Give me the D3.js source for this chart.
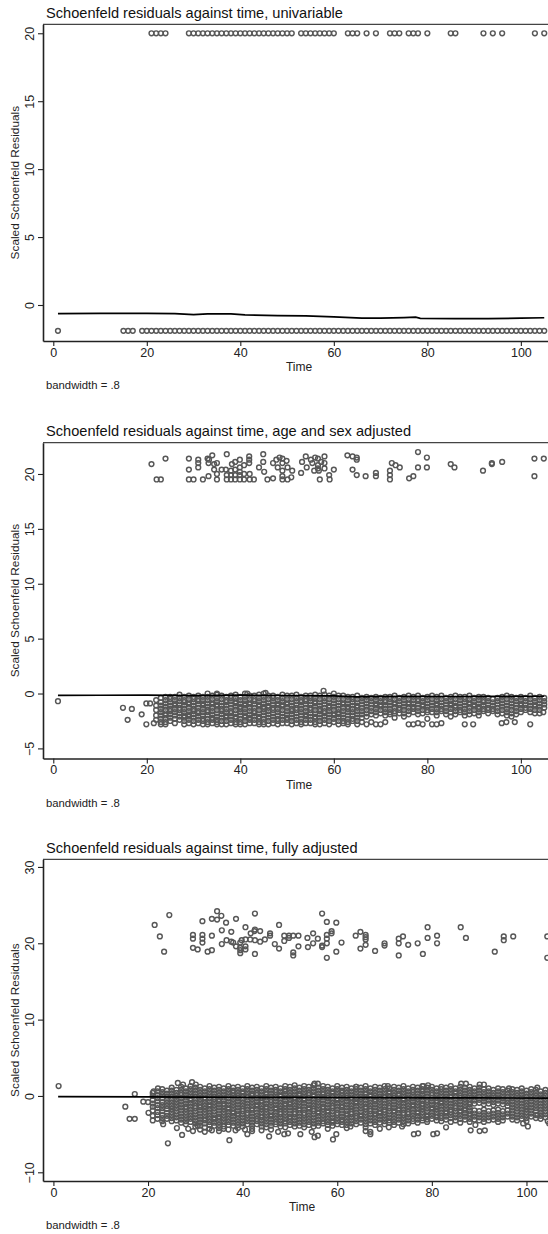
<!DOCTYPE html>
<html><head><meta charset="utf-8">
<script src="https://cdn.jsdelivr.net/npm/d3@7"></script>
<style>body{margin:0;background:#fff}svg{display:block;font-family:"Liberation Sans",Arial,sans-serif}</style>
</head><body><svg id="c" width="548" height="1234"></svg>
<script>
// ---------------- DATA ----------------
const titles = ["Schoenfeld residuals against time, univariable",
  "Schoenfeld residuals against time, age and sex adjusted",
  "Schoenfeld residuals against time, fully adjusted"];
const xTicks = [0,20,40,60,80,100];
const yTicks1 = [0,5,10,15,20];
const yTicks2 = [-5,0,5,10,15,20];
const yTicks3 = [-10,0,10,20,30];
const xLabel = "Time", yLabel = "Scaled Schoenfeld Residuals", note = "bandwidth = .8";

// Panel 1 (univariable): residuals take two values
const p1TopResidual = 20.0;
const p1TopTimes = [21,22,23,24,29,30,31,32,33,34,35,36,37,38,39,40,41,42,43,44,45,46,47,48,49,50,51,
  53,54,55,56,57,58,59,60,63,64,65,67,69,72,73,74,76,77,78,80,85,86,92,94,96,103,105];
const p1BottomResidual = -1.9;
const p1BottomTimes = [1,15,16,17,19,20,21,22,23,24,25,26,27,28,29,30,31,32,33,34,35,36,37,38,39,40,
  41,42,43,44,45,46,47,48,49,50,51,52,53,54,55,56,57,58,59,60,61,62,63,64,65,66,67,68,69,70,
  71,72,73,74,75,76,77,78,79,80,81,82,83,84,85,86,87,88,89,90,91,92,93,94,95,96,97,98,99,100,
  101,102,103,104,105];
const p1Lowess = [[1,-.64],[10,-.62],[20,-.61],[26,-.63],[30,-.71],[33,-.66],[38,-.66],[41,-.73],[48,-.78],
  [54,-.8],[60,-.88],[66,-.96],[70,-.96],[75,-.93],[77.5,-.9],[78.5,-.98],[86,-1.0],[93,-1.0],[100,-.97],[105,-.94]];

// Panel 2 (age and sex adjusted)
const p2Upper = [[21.0,20.9],[22.1,19.5],[23.0,19.5],[24.0,21.4],[29.0,21.4],[29.0,20.4],[29.0,19.5],[30.0,19.5],
  [31.0,21.3],[31.0,21.0],[31.0,20.6],[32.0,19.5],[33.0,21.4],[33.3,21.3],[33.2,21.0],[34.0,21.7],[34.4,20.9],[35.0,21.0],
  [33.2,19.8],[35.0,20.0],[34.4,20.4],[35.0,19.5],[36.0,20.4],[36.9,20.4],[37.1,21.8],[37.1,19.9],[37.1,19.5],
  [38.0,20.3],[38.0,19.9],[38.0,19.5],[38.2,20.9],[38.9,21.1],[38.9,20.4],[38.9,19.9],[38.9,19.5],
  [39.9,21.3],[39.9,20.6],[39.9,20.2],[39.9,19.9],[39.9,19.5],[40.8,20.8],[40.8,20.0],[40.8,19.5],
  [41.9,21.6],[41.9,21.3],[41.9,21.0],[42.0,20.0],[42.0,19.5],[42.9,19.5],[44.0,20.6],[44.9,21.8],[44.9,21.1],
  [45.1,20.2],[45.8,19.5],[47.0,21.0],[47.7,21.3],[48.0,20.6],[47.0,19.6],[48.4,21.5],[49.0,21.4],[49.0,21.0],
  [49.0,20.3],[49.0,19.8],[49.0,19.5],[49.9,21.2],[50.1,20.6],[50.1,19.5],[50.9,19.7],[51.1,20.3],
  [53.0,20.1],[53.2,21.1],[54.0,21.6],[54.2,20.6],[55.1,21.3],[55.4,21.0],[55.8,20.3],[56.0,21.5],[56.6,21.4],
  [56.6,20.8],[56.6,20.5],[56.8,20.3],[57.0,19.5],[57.3,21.1],[58.0,21.0],[58.0,20.5],[58.0,21.6],
  [59.0,19.9],[59.1,19.5],[60.0,20.4],[62.9,21.7],[64.0,21.6],[64.9,21.5],[64.9,21.3],[64.0,20.4],[64.9,19.9],
  [66.8,19.8],[69.0,20.1],[69.0,19.8],[72.0,20.3],[72.0,19.9],[72.0,19.5],[72.4,21.0],[73.2,20.8],[74.1,20.6],
  [76.1,19.6],[77.0,19.8],[78.0,22.0],[78.0,20.6],[79.9,21.5],[79.9,20.6],[85.0,20.9],[85.8,20.6],[91.9,20.3],
  [93.8,21.0],[93.8,20.9],[96.0,21.1],[102.9,21.4],[104.9,21.4],[102.9,19.8]];
const p2Outliers = [[1.0,-.7],[14.9,-1.3],[16.8,-1.4],[15.9,-2.4],[18.9,-1.9],[19.9,-2.8],[19.9,-.9],[20.7,-.9],
  [21.5,-2.7],[57.8,.25],[35,0],[41.5,0],[45.4,.05],[88,-2.8],[89.8,-2.8],[95.9,-2.7],[96.9,-2.6],[98.7,-2.6],
  [102,-2.8],[104,-1.8],[104.8,-1.7]];
const p2Cols = [
 [22,[-.6,-1.1,-1.5,-2.0,-2.4]],
 [23,[-.4,-.8,-1.1,-1.4,-1.7,-2.0,-2.3,-2.6,-2.8]],
 [24,[-.3,-.6,-.9,-1.2,-1.5,-1.8,-2.0,-2.3,-2.6,-2.8]],
 [25,[-.3,-.5,-.8,-1.1,-1.4,-1.6,-1.9,-2.2,-2.5]],
 [26,[-.3,-.6,-.9,-1.1,-1.4,-1.7,-2.0,-2.3,-2.7]],
 [27,[-.1,-.4,-.7,-1.0,-1.3,-1.5,-1.8,-2.1,-2.4]],
 [28,[-.3,-.6,-.8,-1.1,-1.4,-1.7,-2.0,-2.2,-2.5,-2.8]],
 [29,[-.2,-.5,-.8,-1.0,-1.3,-1.6,-1.9,-2.1,-2.4,-2.7]],
 [30,[-.3,-.5,-.8,-1.1,-1.4,-1.6,-1.9,-2.2,-2.5,-2.8]],
 [31,[-.2,-.5,-.7,-1.0,-1.3,-1.6,-1.8,-2.1,-2.4,-2.7]],
 [32,[-.3,-.6,-.9,-1.1,-1.4,-1.7,-2.0,-2.3,-2.5,-2.8]],
 [33,[0,-.3,-.6,-.9,-1.2,-1.5,-1.7,-2.0,-2.3,-2.6,-2.8]],
 [34,[-.2,-.5,-.8,-1.0,-1.3,-1.6,-1.9,-2.2,-2.4,-2.7]],
 [35,[-.1,-.4,-.7,-1.0,-1.2,-1.5,-1.8,-2.1,-2.4,-2.6,-2.8]],
 [36,[-.2,-.5,-.8,-1.1,-1.4,-1.6,-1.9,-2.2,-2.5,-2.8]],
 [37,[-.3,-.6,-.8,-1.1,-1.4,-1.7,-2.0,-2.2,-2.5,-2.8]],
 [38,[-.2,-.4,-.7,-1.0,-1.3,-1.6,-1.8,-2.1,-2.4,-2.7]],
 [39,[-.1,-.4,-.7,-.9,-1.2,-1.5,-1.8,-2.1,-2.3,-2.6,-2.8]],
 [40,[-.3,-.6,-.9,-1.2,-1.4,-1.7,-2.0,-2.3,-2.6,-2.8]],
 [41,[0,-.3,-.6,-.9,-1.1,-1.4,-1.7,-2.0,-2.2,-2.5,-2.8]],
 [42,[-.2,-.5,-.8,-1.0,-1.3,-1.6,-1.9,-2.2,-2.4,-2.7]],
 [43,[-.2,-.5,-.7,-1.0,-1.3,-1.6,-1.8,-2.1,-2.4,-2.7]],
 [44,[-.1,-.4,-.7,-1.0,-1.2,-1.5,-1.8,-2.1,-2.3,-2.6,-2.8]],
 [45,[0,-.3,-.6,-.9,-1.2,-1.4,-1.7,-2.0,-2.3,-2.6,-2.8]],
 [46,[-.2,-.5,-.8,-1.1,-1.3,-1.6,-1.9,-2.2,-2.5,-2.8]],
 [47,[-.2,-.4,-.7,-1.0,-1.3,-1.5,-1.8,-2.1,-2.4,-2.7]],
 [48,[-.3,-.6,-.9,-1.1,-1.4,-1.7,-2.0,-2.3,-2.5,-2.8]],
 [49,[-.1,-.4,-.7,-1.0,-1.2,-1.5,-1.8,-2.1,-2.4,-2.7]],
 [50,[-.2,-.5,-.8,-1.0,-1.3,-1.6,-1.9,-2.2,-2.4,-2.7]],
 [51,[-.2,-.5,-.8,-1.1,-1.4,-1.6,-1.9,-2.2,-2.5,-2.8]],
 [52,[-.1,-.4,-.7,-1.0,-1.3,-1.5,-1.8,-2.1,-2.4,-2.7]],
 [53,[-.3,-.6,-.8,-1.1,-1.4,-1.7,-2.0,-2.3,-2.6,-2.8]],
 [54,[-.2,-.5,-.7,-1.0,-1.3,-1.6,-1.9,-2.1,-2.4,-2.7]],
 [55,[-.2,-.4,-.7,-1.0,-1.3,-1.5,-1.8,-2.1,-2.4,-2.7]],
 [56,[-.1,-.4,-.7,-.9,-1.2,-1.5,-1.8,-2.1,-2.3,-2.6,-2.8]],
 [57,[-.2,-.5,-.8,-1.1,-1.4,-1.6,-1.9,-2.2,-2.5,-2.8]],
 [58,[-.1,-.4,-.7,-1.0,-1.3,-1.6,-1.8,-2.1,-2.4,-2.7]],
 [59,[-.2,-.5,-.8,-1.1,-1.3,-1.6,-1.9,-2.2,-2.5,-2.8]],
 [60,[0,-.3,-.6,-.9,-1.2,-1.5,-1.8,-2.0,-2.3,-2.6]],
 [61,[-.2,-.5,-.8,-1.1,-1.4,-1.7,-1.9,-2.2,-2.5,-2.8]],
 [62,[-.2,-.5,-.8,-1.0,-1.3,-1.6,-1.9,-2.2,-2.5,-2.7]],
 [63,[-.3,-.6,-.9,-1.2,-1.4,-1.7,-2.0,-2.3,-2.6,-2.8]],
 [64,[-.3,-.5,-.8,-1.1,-1.4,-1.7,-2.0,-2.3,-2.5]],
 [65,[-.2,-.5,-.8,-1.1,-1.3,-1.6,-1.9,-2.2,-2.5,-2.8]],
 [66,[-.4,-.7,-1.0,-1.3,-1.6,-1.9,-2.2,-2.6]],
 [67,[-.3,-.6,-.9,-1.2,-1.5,-1.8,-2.1,-2.8]],
 [68,[-.4,-.7,-1.0,-1.3,-1.6,-1.9,-2.6]],
 [69,[-.3,-.6,-.9,-1.1,-1.4,-1.7,-2.0,-2.8]],
 [70,[-.4,-.7,-1.0,-1.2,-1.5,-1.8,-2.8]],
 [71,[-.3,-.6,-.8,-1.1,-1.4,-1.7,-2.0,-2.6]],
 [72,[-.3,-.5,-.8,-1.1,-1.4,-1.7,-1.9]],
 [73,[-.2,-.5,-.8,-1.0,-1.3,-1.6,-1.8,-2.2]],
 [74,[-.4,-.7,-1.0,-1.3,-1.5,-1.8]],
 [75,[-.3,-.6,-.9,-1.2,-1.5,-1.8,-2.1]],
 [76,[-.2,-.5,-.8,-1.0,-1.3,-1.6,-1.9,-2.8]],
 [77,[-.3,-.6,-.9,-1.2,-1.4,-1.7,-2.8]],
 [78,[-.2,-.5,-.7,-1.0,-1.3,-1.6,-1.9,-2.7]],
 [79,[-.4,-.7,-1.0,-1.2,-1.5,-1.8,-2.8]],
 [80,[-.3,-.6,-.9,-1.2,-1.5,-1.7,-2.3]],
 [81,[-.2,-.5,-.8,-1.1,-1.4,-1.7,-2.8]],
 [82,[-.3,-.6,-.9,-1.1,-1.4,-1.7,-2.0,-2.8]],
 [83,[-.2,-.5,-.8,-1.1,-1.4,-1.6,-2.7]],
 [84,[-.4,-.7,-1.0,-1.3,-1.6,-1.9]],
 [85,[-.3,-.6,-.9,-1.1,-1.4,-1.7,-2.1]],
 [86,[-.2,-.5,-.8,-1.1,-1.3,-1.6,-1.9]],
 [87,[-.3,-.6,-.9,-1.2,-1.5,-1.7]],
 [88,[-.3,-.5,-.8,-1.1,-1.4,-1.7,-2.0]],
 [89,[-.2,-.5,-.8,-1.0,-1.3,-1.6,-1.9]],
 [90,[-.4,-.7,-1.0,-1.2,-1.5,-1.8]],
 [91,[-.3,-.6,-.9,-1.2,-1.4,-1.7,-2.0]],
 [92,[-.3,-.6,-.8,-1.1,-1.4,-1.6]],
 [93,[-.4,-.7,-1.0,-1.3,-1.5,-1.8]],
 [94,[-.5,-.8,-1.1,-1.4,-1.6]],
 [95,[-.4,-.7,-1.0,-1.3,-1.6,-1.9]],
 [96,[-.3,-.6,-.9,-1.2,-1.5,-1.8]],
 [97,[-.2,-.5,-.8,-1.1,-1.4,-1.7,-2.0]],
 [98,[-.3,-.6,-.9,-1.2,-1.5,-1.8,-2.1]],
 [99,[-.4,-.7,-1.0,-1.3,-1.6,-1.9]],
 [100,[-.3,-.6,-.9,-1.1,-1.4,-1.7]],
 [101,[-.4,-.7,-1.0,-1.3,-1.5]],
 [102,[-.2,-.5,-.8,-1.1,-1.4,-1.7]],
 [103,[-.4,-.7,-1.0,-1.2,-1.5,-1.8]],
 [104,[-.3,-.6,-.9,-1.2,-1.5]],
 [105,[-.4,-.7,-1.0,-1.3]]];
const p2Lowess = [[1,-.17],[10,-.16],[20,-.15],[30,-.19],[40,-.15],[50,-.18],[60,-.22],[65,-.3],[68,-.28],
  [75,-.26],[85,-.27],[95,-.26],[105,-.25]];

// Panel 3 (fully adjusted)
const p3Upper = [[21.4,22.4],[22.5,20.9],[23.4,18.9],[24.5,23.7],[29.5,21.1],[29.5,20.6],[29.5,19.4],[30.5,19.2],
  [31.5,22.9],[31.5,21.1],[31.5,20.6],[31.5,20.1],[32.6,18.9],[33.5,19.1],[33.5,23.2],[34.6,23.1],[33.5,21.0],
  [34.6,24.2],[35.5,23.6],[36.5,22.7],[35.6,21.7],[35.6,19.9],[36.6,20.4],[37.6,21.5],[37.6,20.2],[38.0,20.1],
  [38.6,23.2],[38.6,19.6],[39.5,20.1],[39.5,19.4],[39.5,19.1],[39.5,18.7],[39.8,20.4],[40.6,22.1],[40.6,20.5],
  [40.6,19.6],[40.6,19.2],[41.6,20.5],[41.7,21.3],[42.6,23.9],[42.5,21.6],[42.6,21.8],[43.7,21.6],[42.6,20.4],
  [42.6,18.6],[43.7,20.2],[44.7,20.5],[45.8,21.3],[45.8,21.0],[46.8,19.9],[47.7,22.4],[47.7,19.3],[48.8,21.0],
  [48.8,20.3],[49.8,21.0],[49.8,20.7],[50.7,21.0],[51.8,21.0],[50.7,18.8],[50.7,18.4],[51.8,19.6],[53.7,20.7],
  [53.8,19.5],[54.9,21.3],[54.9,20.0],[55.9,20.6],[56.8,23.9],[56.8,19.7],[56.8,19.5],[57.8,22.8],[57.8,21.1],
  [57.8,20.6],[57.8,20.0],[57.8,18.1],[58.8,21.6],[58.8,21.3],[59.8,22.7],[59.8,18.9],[60.9,20.1],[63.9,21.0],
  [64.9,21.5],[66.0,21.1],[66.0,20.8],[66.0,20.5],[64.9,19.3],[66.0,19.8],[68.0,19.0],[70.0,20.0],[70.0,19.7],
  [73.0,20.6],[73.9,20.9],[73.0,20.0],[73.0,18.4],[75.0,19.8],[77.0,20.0],[78.1,18.6],[79.1,22.1],[79.1,20.7],
  [81.1,21.0],[81.1,20.0],[86.1,22.1],[87.2,20.7],[93.3,18.9],[95.2,20.9],[95.2,20.4],[97.2,20.9],[104.4,20.9],[104.4,18.1]];
const p3Outliers = [[1.1,1.3],[15.2,-1.4],[16.1,-3.0],[17.2,-3.0],[17.2,.25],[19.0,-.75],[20.0,-.8],[20.1,-2.2],
  [21.2,.6],[22.1,1.0],[23.2,-3.7],[24.2,-6.2],[26.1,-4.2],[27.2,-5.1],[26.3,1.7],[29.3,1.8],[27.4,1.5],[30.1,1.5],
  [30.5,-3.9],[32,-4.7],[37.2,-5.8],[41,-5.0],[45.6,-5.3],[48.8,-5.0],[49.6,-4.9],[52.2,-5.0],[54.6,-4.7],[55.2,-5.4],
  [55.9,-5.2],[55.2,1.6],[55.9,1.6],[59.1,-5.7],[59.8,-5.0],[62.8,-4.0],[64,1.2],[67,-4.7],[67,-5.0],[69,-4.3],
  [70.7,1.3],[70.9,-4.1],[73.7,-4.0],[76.2,-5.0],[77.1,-4.9],[78.2,1.3],[79.2,1.4],[80.3,-5.0],[81.1,-4.9],[83,-4.1],
  [86.2,1.6],[87.2,1.6],[88.2,-4.5],[89.2,-3.8],[90.1,-4.6],[90.1,1.5],[91,1.5],[91.2,-4.5],[96.3,1.0],[100.3,-4.0],
  [99.3,-3.6],[102.3,1.1],[102.3,-2.5],[104.5,-3.3],[104.8,-3.6],[28.5,-4.3],[29.5,-4.6],[31,-4.4],[33.5,-4.5],
  [35,-4.6],[36,-4.3],[38.5,-4.5],[40.5,-4.4],[42,-4.6],[44,-4.5],[46,-4.4],[47.5,-4.7]];
const p3Cols = [
 [21,[.4,0,-.5,-1.0,-1.4,-1.9,-2.6,-3.2]],
 [22,[.6,.1,-.3,-.7,-1.2,-1.6,-2.1,-2.5,-3.0]],
 [23,[.9,.5,.1,-.3,-.8,-1.2,-1.6,-2.0,-2.5,-2.9,-3.3]],
 [24,[.7,.3,-.1,-.5,-.9,-1.3,-1.7,-2.2,-2.6,-3.0]],
 [25,[1.1,.7,.3,-.1,-.5,-.9,-1.3,-1.7,-2.1,-2.5,-2.9,-3.3]],
 [26,[.8,.4,0,-.4,-.8,-1.2,-1.6,-2.0,-2.4,-2.8,-3.2]],
 [27,[1.2,.8,.4,.1,-.3,-.7,-1.1,-1.5,-1.9,-2.3,-2.7,-3.1,-3.5]],
 [28,[1.0,.6,.2,-.2,-.6,-1.0,-1.4,-1.7,-2.1,-2.5,-2.9,-3.3,-3.7]],
 [29,[1.3,.9,.5,.1,-.3,-.6,-1.0,-1.4,-1.8,-2.2,-2.6,-3.0,-3.4]],
 [30,[1.1,.7,.3,-.1,-.5,-.9,-1.3,-1.6,-2.0,-2.4,-2.8,-3.2,-3.6,-4.0]],
 [31,[1.2,.8,.4,0,-.4,-.8,-1.2,-1.5,-1.9,-2.3,-2.7,-3.1,-3.5,-3.9]],
 [32,[1.0,.6,.2,-.2,-.5,-.9,-1.3,-1.7,-2.1,-2.5,-2.9,-3.2,-3.6,-4.1]],
 [33,[1.3,.9,.5,.1,-.3,-.7,-1.1,-1.4,-1.8,-2.2,-2.6,-3.0,-3.4,-3.8,-4.3]],
 [34,[1.1,.7,.3,-.1,-.4,-.8,-1.2,-1.6,-2.0,-2.4,-2.8,-3.1,-3.5,-3.9]],
 [35,[1.2,.8,.4,0,-.4,-.7,-1.1,-1.5,-1.9,-2.3,-2.7,-3.0,-3.4,-3.8,-4.2]],
 [36,[1.0,.6,.2,-.2,-.6,-1.0,-1.3,-1.7,-2.1,-2.5,-2.9,-3.3,-3.7,-4.0]],
 [37,[1.3,.9,.5,.1,-.3,-.7,-1.1,-1.5,-1.8,-2.2,-2.6,-3.0,-3.4,-3.8,-4.4]],
 [38,[1.1,.7,.4,0,-.4,-.8,-1.2,-1.6,-2.0,-2.3,-2.7,-3.1,-3.5,-3.9]],
 [39,[1.2,.8,.4,0,-.3,-.7,-1.1,-1.5,-1.9,-2.3,-2.6,-3.0,-3.4,-3.8,-4.2]],
 [40,[1.0,.6,.3,-.1,-.5,-.9,-1.3,-1.7,-2.0,-2.4,-2.8,-3.2,-3.6,-4.0]],
 [41,[1.3,.9,.5,.1,-.2,-.6,-1.0,-1.4,-1.8,-2.2,-2.5,-2.9,-3.3,-3.7]],
 [42,[1.1,.7,.3,0,-.4,-.8,-1.2,-1.6,-1.9,-2.3,-2.7,-3.1,-3.5,-3.9,-4.3]],
 [43,[1.2,.8,.4,.1,-.3,-.7,-1.1,-1.4,-1.8,-2.2,-2.6,-3.0,-3.3,-3.7]],
 [44,[1.0,.6,.2,-.2,-.6,-.9,-1.3,-1.7,-2.1,-2.5,-2.8,-3.2,-3.6,-4.0]],
 [45,[1.3,.9,.5,.2,-.2,-.6,-1.0,-1.4,-1.7,-2.1,-2.5,-2.9,-3.3,-3.7,-4.1]],
 [46,[1.1,.7,.3,-.1,-.5,-.8,-1.2,-1.6,-2.0,-2.4,-2.7,-3.1,-3.5,-3.9]],
 [47,[1.2,.8,.5,.1,-.3,-.7,-1.1,-1.5,-1.8,-2.2,-2.6,-3.0,-3.4,-3.7]],
 [48,[1.0,.6,.2,-.1,-.5,-.9,-1.3,-1.7,-2.1,-2.4,-2.8,-3.2,-3.6,-4.0]],
 [49,[1.3,.9,.6,.2,-.2,-.6,-1.0,-1.3,-1.7,-2.1,-2.5,-2.9,-3.3,-3.6,-4.1]],
 [50,[1.2,.8,.4,0,-.4,-.8,-1.1,-1.5,-1.9,-2.3,-2.7,-3.0,-3.4,-3.8]],
 [51,[1.4,1.0,.6,.2,-.2,-.5,-.9,-1.3,-1.7,-2.1,-2.4,-2.8,-3.2,-3.6,-4.0]],
 [52,[1.1,.7,.3,0,-.4,-.8,-1.2,-1.6,-1.9,-2.3,-2.7,-3.1,-3.5,-3.9]],
 [53,[1.3,.9,.5,.1,-.3,-.6,-1.0,-1.4,-1.8,-2.2,-2.5,-2.9,-3.3,-3.7,-4.1]],
 [54,[1.2,.8,.4,.1,-.3,-.7,-1.1,-1.5,-1.8,-2.2,-2.6,-3.0,-3.4,-3.8]],
 [55,[1.4,1.0,.6,.2,-.1,-.5,-.9,-1.3,-1.7,-2.0,-2.4,-2.8,-3.2,-3.6,-4.0]],
 [56,[1.1,.7,.3,-.1,-.4,-.8,-1.2,-1.6,-2.0,-2.3,-2.7,-3.1,-3.5,-3.9]],
 [57,[1.3,.9,.5,.2,-.2,-.6,-1.0,-1.4,-1.7,-2.1,-2.5,-2.9,-3.3,-3.6]],
 [58,[1.2,.8,.4,0,-.3,-.7,-1.1,-1.5,-1.9,-2.2,-2.6,-3.0,-3.4,-3.8,-4.3]],
 [59,[1.0,.6,.3,-.1,-.5,-.9,-1.3,-1.6,-2.0,-2.4,-2.8,-3.2,-3.5,-3.9]],
 [60,[1.3,.9,.5,.1,-.3,-.6,-1.0,-1.4,-1.8,-2.2,-2.5,-2.9,-3.3,-3.7]],
 [61,[1.1,.7,.4,0,-.4,-.8,-1.2,-1.5,-1.9,-2.3,-2.7,-3.1,-3.4,-3.8]],
 [62,[1.2,.8,.4,0,-.3,-.7,-1.1,-1.5,-1.9,-2.3,-2.6,-3.0,-3.4,-3.8,-4.2]],
 [63,[1.0,.6,.2,-.2,-.5,-.9,-1.3,-1.7,-2.1,-2.4,-2.8,-3.2,-3.6]],
 [64,[1.2,.9,.5,.1,-.3,-.7,-1.0,-1.4,-1.8,-2.2,-2.6,-2.9,-3.3,-3.7]],
 [65,[1.1,.7,.3,-.1,-.4,-.8,-1.2,-1.6,-2.0,-2.4,-2.7,-3.1,-3.5]],
 [66,[1.3,.9,.5,.2,-.2,-.6,-1.0,-1.4,-1.7,-2.1,-2.5,-2.9,-3.3,-3.7,-4.1,-4.6]],
 [67,[1.0,.6,.2,-.1,-.5,-.9,-1.3,-1.7,-2.0,-2.4,-2.8,-3.2,-3.6]],
 [68,[1.2,.8,.4,0,-.4,-.7,-1.1,-1.5,-1.9,-2.3,-2.6,-3.0,-3.4,-3.8]],
 [69,[1.1,.7,.3,-.1,-.4,-.8,-1.2,-1.6,-2.0,-2.3,-2.7,-3.1,-3.5]],
 [70,[1.3,.9,.5,.1,-.2,-.6,-1.0,-1.4,-1.8,-2.1,-2.5,-2.9,-3.3,-3.7]],
 [71,[1.0,.6,.3,-.1,-.5,-.9,-1.3,-1.6,-2.0,-2.4,-2.8,-3.2,-3.5]],
 [72,[1.2,.8,.4,0,-.3,-.7,-1.1,-1.5,-1.9,-2.2,-2.6,-3.0,-3.4,-3.8]],
 [73,[1.1,.7,.3,0,-.4,-.8,-1.2,-1.6,-1.9,-2.3,-2.7,-3.1,-3.5]],
 [74,[1.3,.9,.5,.1,-.3,-.6,-1.0,-1.4,-1.8,-2.2,-2.5,-2.9,-3.3,-3.7]],
 [75,[1.0,.6,.2,-.2,-.5,-.9,-1.3,-1.7,-2.1,-2.4,-2.8,-3.2,-3.6]],
 [76,[1.2,.8,.5,.1,-.3,-.7,-1.1,-1.4,-1.8,-2.2,-2.6,-3.0,-3.3]],
 [77,[1.1,.7,.3,-.1,-.4,-.8,-1.2,-1.6,-2.0,-2.3,-2.7,-3.1,-3.5]],
 [78,[1.3,.9,.6,.2,-.2,-.6,-1.0,-1.3,-1.7,-2.1,-2.5,-2.9,-3.2]],
 [79,[1.1,.7,.3,-.1,-.5,-.8,-1.2,-1.6,-2.0,-2.4,-2.7,-3.1,-3.4]],
 [80,[1.2,.8,.4,.1,-.3,-.7,-1.1,-1.5,-1.8,-2.2,-2.6,-3.0]],
 [81,[1.0,.6,.2,-.2,-.6,-.9,-1.3,-1.7,-2.1,-2.5,-2.8,-3.2]],
 [82,[1.2,.9,.5,.1,-.3,-.7,-1.0,-1.4,-1.8,-2.2,-2.6,-2.9,-3.3]],
 [83,[1.1,.7,.3,-.1,-.4,-.8,-1.2,-1.6,-2.0,-2.3,-2.7,-3.1]],
 [84,[1.3,.9,.5,.1,-.2,-.6,-1.0,-1.4,-1.8,-2.1,-2.5,-2.9,-3.4]],
 [85,[1.0,.6,.3,-.1,-.5,-.9,-1.3,-1.6,-2.0,-2.4,-2.8,-3.2]],
 [86,[1.2,.8,.4,0,-.3,-.7,-1.1,-1.5,-1.9,-2.2,-2.6,-3.0,-3.5]],
 [87,[1.1,.7,.3,-.1,-.4,-.8,-1.2,-1.6,-1.9,-2.3,-2.7,-3.1]],
 [88,[1.2,.8,.4,0,-.4,-.8,-1.1,-1.5,-1.9,-2.3,-2.6,-3.0,-3.4]],
 [89,[1.0,.6,.2,-.2,-.6,-1.0,-1.9,-2.3,-2.7,-3.1]],
 [90,[1.1,.7,.3,-.1,-.5,-.9,-2.0,-2.4,-2.8,-3.2]],
 [91,[.9,.5,.1,-.3,-.7,-1.1,-1.8,-2.2,-2.6,-3.0,-3.4]],
 [92,[1.0,.6,.2,-.2,-.6,-1.0,-2.0,-2.4,-2.8,-3.2]],
 [93,[.8,.4,0,-.4,-.8,-1.2,-1.9,-2.3,-2.7,-3.1]],
 [94,[1.0,.6,.2,-.2,-.6,-1.0,-1.8,-2.2,-2.6,-3.0,-3.4]],
 [95,[.9,.5,.1,-.3,-.7,-1.1,-2.0,-2.4,-2.8,-3.2]],
 [96,[.7,.3,-.1,-.5,-.9,-1.3,-1.9,-2.3,-2.7]],
 [97,[.9,.5,.1,-.3,-.7,-1.1,-1.5,-1.9,-2.3,-2.7,-3.1]],
 [98,[.8,.4,0,-.4,-.8,-1.2,-1.6,-2.0,-2.4,-2.8,-3.2]],
 [99,[1.0,.6,.2,-.2,-.6,-1.0,-1.4,-1.8,-2.2,-2.6,-3.0]],
 [100,[.7,.3,-.1,-.5,-.9,-1.3,-1.7,-2.1,-2.5,-2.9,-3.3]],
 [101,[.9,.5,.1,-.3,-.7,-1.1,-1.5,-1.9,-2.3,-2.7]],
 [102,[.8,.4,0,-.4,-.8,-1.2,-1.6,-2.0,-2.5,-2.9]],
 [103,[.6,.2,-.2,-.6,-1.0,-1.4,-1.8,-2.2,-2.6,-3.0]],
 [104,[.8,.4,0,-.4,-.8,-1.2,-1.6,-2.0,-2.4,-2.8]],
 [105,[.7,.3,-.1,-.5,-.9,-1.3,-1.7,-2.1,-2.5,-2.9]]];
const p3Lowess = [[1,-.1],[20,-.12],[30,-.15],[40,-.17],[50,-.19],[60,-.2],[70,-.22],[80,-.24],[90,-.26],[105,-.28]];

// ---------------- DRAWING ----------------
const svg = d3.select("#c");
const fromCols = cols => cols.flatMap(([t, ys]) => ys.map(y => [t, y]));
const panelData = [
  { points: p1TopTimes.map(t => [t, p1TopResidual]).concat(p1BottomTimes.map(t => [t, p1BottomResidual])),
    lowess: p1Lowess, yTicks: yTicks1 },
  { points: p2Upper.concat(p2Outliers, fromCols(p2Cols)), lowess: p2Lowess, yTicks: yTicks2 },
  { points: p3Upper.concat(p3Outliers, fromCols(p3Cols)), lowess: p3Lowess, yTicks: yTicks3 }
];
const layout = [
  { titleY: 17.7, top: 24.3, bottom: 341, yDom: [-2.65, 20.66], xR: [43, 555] },
  { titleY: 435.7, top: 442.7, bottom: 758.5, yDom: [-5.92, 22.85], xR: [43, 555] },
  { titleY: 853.3, top: 859.3, bottom: 1181, yDom: [-11.14, 31.0], xR: [43, 561] }
];
const xDom = [-2.2, 107.3];
const FONT = '"Liberation Sans",Arial,sans-serif';

layout.forEach((L, i) => {
  const D = panelData[i];
  const g = svg.append("g");
  const x = d3.scaleLinear().domain(xDom).range(L.xR);
  const y = d3.scaleLinear().domain(L.yDom).range([L.bottom, L.top]);

  g.append("text").attr("x", 46).attr("y", L.titleY).attr("font-size", 14.6).attr("fill", "#111").text(titles[i]);

  g.append("line").attr("x1", L.xR[0]).attr("x2", L.xR[1]).attr("y1", L.top).attr("y2", L.top)
    .attr("stroke", "#444").attr("stroke-width", 1.3);

  g.append("g").selectAll("circle").data(D.points).join("circle")
    .attr("cx", d => x(d[0])).attr("cy", d => y(d[1])).attr("r", 2.4)
    .attr("fill", "none").attr("stroke", "#575757").attr("stroke-width", 1.45);

  g.append("path").datum(D.lowess)
    .attr("d", d3.line().x(d => x(d[0])).y(d => y(d[1])))
    .attr("fill", "none").attr("stroke", "#000").attr("stroke-width", 1.7);

  const ax = g.append("g").attr("transform", `translate(0,${L.bottom})`)
    .call(d3.axisBottom(x).tickValues(xTicks).tickSize(5).tickSizeOuter(0).tickPadding(2));
  const ay = g.append("g").attr("transform", `translate(${L.xR[0]},0)`)
    .call(d3.axisLeft(y).tickValues(D.yTicks).tickSize(5).tickSizeOuter(0));
  [ax, ay].forEach(a => {
    a.select(".domain").attr("stroke", "#222").attr("stroke-width", 1.6);
    a.selectAll(".tick line").attr("stroke", "#222").attr("stroke-width", 1.1);
    a.selectAll("text").attr("font-size", 12.5).attr("fill", "#222").attr("font-family", FONT);
  });
  ay.selectAll(".tick text").attr("transform", "rotate(-90)").attr("x", 0).attr("y", -9).attr("dy", 0)
    .style("text-anchor", "middle");

  const cx = (L.xR[0] + L.xR[1]) / 2;
  g.append("text").attr("x", cx).attr("y", L.bottom + 30).attr("text-anchor", "middle")
    .attr("font-size", 12).attr("fill", "#222").text(xLabel);
  g.append("text").attr("transform", `translate(19,${(L.top + L.bottom) / 2}) rotate(-90)`)
    .attr("text-anchor", "middle").attr("font-size", 11.8).attr("fill", "#222").text(yLabel);
  g.append("text").attr("x", 46).attr("y", L.bottom + 48).attr("font-size", 11.3).attr("fill", "#222").text(note);
});
</script></body></html>
